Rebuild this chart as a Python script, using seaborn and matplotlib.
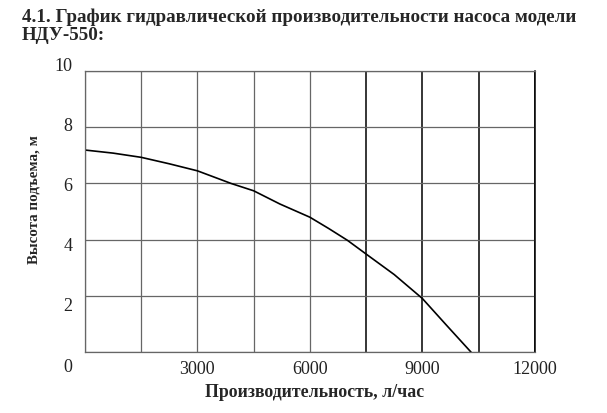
import numpy as np
import pandas as pd
import matplotlib
matplotlib.use("Agg")
import matplotlib.pyplot as plt
import matplotlib.transforms as mtransforms
from matplotlib.ticker import MultipleLocator, FuncFormatter
import seaborn as sns

# Data
flow = [0, 750, 1500, 2250, 3000, 3900, 4500, 5200, 6000, 6500, 7000, 7500, 8250, 9000, 9650, 10300]
head = [7.19, 7.08, 6.93, 6.70, 6.45, 6.00, 5.74, 5.27, 4.80, 4.40, 3.98, 3.49, 2.76, 1.91, 0.95, 0.0]
x_labels = [3000, 6000, 9000, 12000]
y_labels = [0, 2, 4, 6, 8, 10]

title_lines = ["4.1. График гидравлической производительности насоса модели", "НДУ-550:"]
xlabel = "Производительность, л/час"
ylabel = "Высота подъема, м"

df = pd.DataFrame({"flow": flow, "head": head})

sns.set_theme(style="white")
plt.rcParams["font.family"] = ["Liberation Serif", "DejaVu Serif"]

fig = plt.figure(figsize=(6.07, 4.14), dpi=100)
ax = fig.add_axes([0.14, 0.147, 0.741, 0.679])

sns.lineplot(data=df, x="flow", y="head", color="black", linewidth=1.2, ax=ax, sort=False)

ax.set_xlim(0, 12000)
ax.set_ylim(0, 10)
ax.xaxis.set_major_locator(MultipleLocator(1500))
ax.yaxis.set_major_locator(MultipleLocator(2))
ax.xaxis.set_major_formatter(FuncFormatter(
    lambda v, p: f"{int(v)}" if int(v) in x_labels else ""))
ax.yaxis.set_major_formatter(FuncFormatter(
    lambda v, p: f"{int(v)}" if int(v) in y_labels else ""))
ax.tick_params(length=0, labelsize=13, colors="#222222")
ax.tick_params(axis="x", pad=6)
ax.tick_params(axis="y", pad=9)

ax.grid(True, color="#666666", linewidth=0.9)

for side in ["left", "bottom", "top"]:
    ax.spines[side].set_color("#666666")
    ax.spines[side].set_linewidth(0.9)
ax.spines["right"].set_color("black")
ax.spines["right"].set_linewidth(1.1)

ax.set_xlabel(xlabel, fontsize=12.8, fontweight="bold")
ax.set_ylabel(ylabel, fontsize=10.8, fontweight="bold")
ax.xaxis.set_label_coords(0.511, -0.11)
ax.yaxis.set_label_coords(-0.10, 0.545)

fig.text(22 / 607, 1 - 22 / 414, title_lines[0], fontsize=13.7, fontweight="bold",
         ha="left", va="baseline")
fig.text(22 / 607, 1 - 40 / 414, title_lines[1], fontsize=13.7, fontweight="bold",
         ha="left", va="baseline")

fig.canvas.draw()

# right-hand vertical grid lines are darker in the original
for t in ax.xaxis.get_major_ticks():
    if t.get_loc() >= 7500:
        t.gridline.set_color("black")
        t.gridline.set_linewidth(1.1)

# y tick labels in the original drift slightly away from the grid lines
for t in ax.yaxis.get_major_ticks():
    dy = (2 * t.get_loc() - 12) / 100.0
    lab = t.label1
    lab.set_transform(lab.get_transform() + mtransforms.ScaledTranslation(0, dy, fig.dpi_scale_trans))

fig.savefig("out.png", dpi=100)
